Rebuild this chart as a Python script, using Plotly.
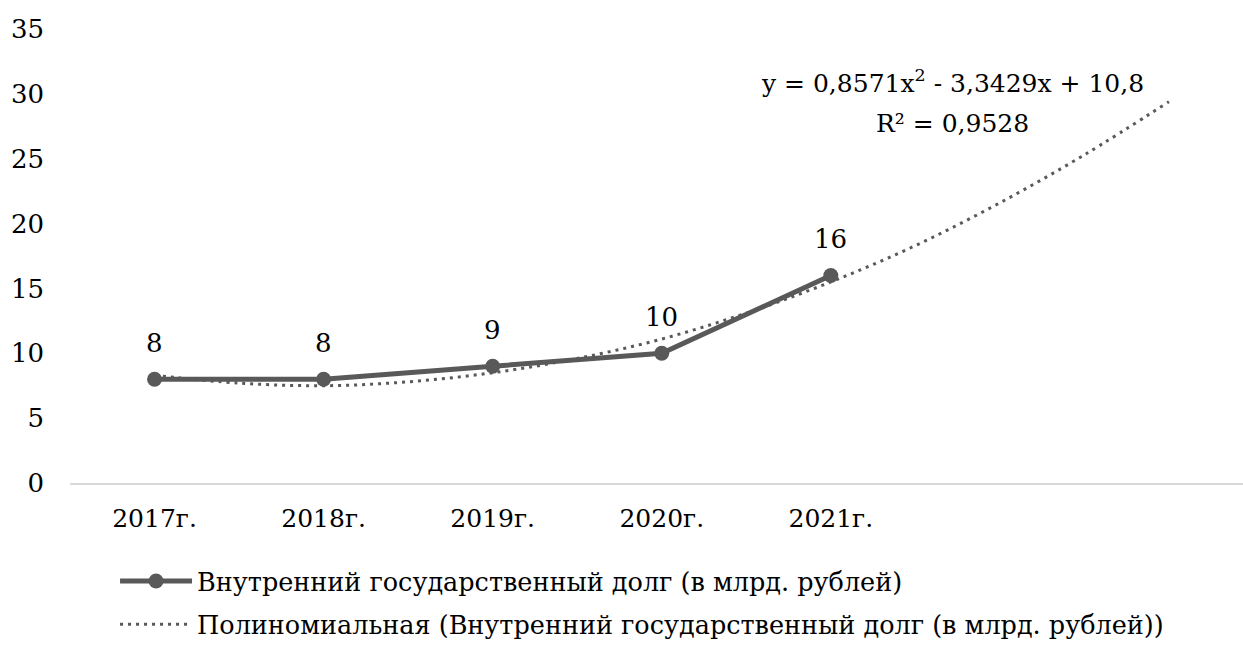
import plotly.graph_objects as go

categories = ["2017г.", "2018г.", "2019г.", "2020г.", "2021г."]
cat_pos = [1, 2, 3, 4, 5]
debt_values = [8, 8, 9, 10, 16]

# trendline values (forecast 2 periods ahead)
trend_x = [1, 1.5, 2, 2.5, 3, 3.5, 4, 4.5, 5, 5.5, 6, 6.5, 7]
trend_y = [8.3, 7.7, 7.5, 7.8, 8.5, 9.6, 11.1, 13.1, 15.5, 18.3, 21.6, 25.3, 29.4]

y_ticks = [0, 5, 10, 15, 20, 25, 30, 35]

series_name = "Внутренний государственный долг (в млрд. рублей)"
trend_name = "Полиномиальная (Внутренний государственный долг (в млрд. рублей))"
equation_line1 = "y = 0,8571x<sup>2</sup> - 3,3429x + 10,8"
equation_line2 = "R² = 0,9528"

FONT = "DejaVu Serif"
GREY = "#595959"

fig = go.Figure()
fig.add_trace(go.Scatter(
    x=cat_pos, y=debt_values, mode="lines+markers",
    name=series_name, legendgroup="a",
    line=dict(color=GREY, width=5),
    marker=dict(color=GREY, size=15),
))
fig.add_trace(go.Scatter(
    x=trend_x, y=trend_y, mode="lines", name=trend_name, legendgroup="b",
    line=dict(color=GREY, width=3, dash="3px,5px", shape="spline"),
))

# data labels
for xv, yv in zip(cat_pos, debt_values):
    fig.add_annotation(
        x=xv, y=yv, xref="x", yref="y", text=str(yv), showarrow=False,
        yshift=36, font=dict(family=FONT, size=26, color="#000000"),
    )

fig.add_annotation(
    x=5.72, y=30.92, xref="x", yref="y", text=equation_line1, showarrow=False,
    font=dict(family=FONT, size=25, color="#000000"), align="center",
)
fig.add_annotation(
    x=5.72, y=27.68, xref="x", yref="y", text=equation_line2, showarrow=False,
    font=dict(family=FONT, size=25, color="#000000"), align="center",
)

fig.update_layout(
    width=1243, height=647,
    margin=dict(l=70, r=0, t=29, b=164, autoexpand=False),
    paper_bgcolor="white", plot_bgcolor="white",
    font=dict(family=FONT, size=26, color="#000000"),
    showlegend=True,
    legend=dict(
        orientation="v", x=0.0384, y=-0.165, xanchor="left", yanchor="top",
        font=dict(family=FONT, size=25.5, color="#000000"),
        itemwidth=72, tracegroupgap=7, bgcolor="rgba(0,0,0,0)",
    ),
    xaxis=dict(
        range=[0.5, 7.438], tickmode="array", tickvals=cat_pos, ticktext=categories,
        showgrid=False, zeroline=False, showline=True, linecolor="#d9d9d9", linewidth=2,
        ticks="", tickfont=dict(family=FONT, size=25, color="#000000"),
        ticklabelstandoff=12,
    ),
    yaxis=dict(
        range=[0, 35], tickmode="array", tickvals=y_ticks,
        showgrid=False, zeroline=False, showline=False, ticks="",
        tickfont=dict(family=FONT, size=26, color="#000000"), ticklabelstandoff=25,
    ),
)

fig.write_html("out.html", config={"displayModeBar": False},
               post_script="document.body.style.margin='0';")
